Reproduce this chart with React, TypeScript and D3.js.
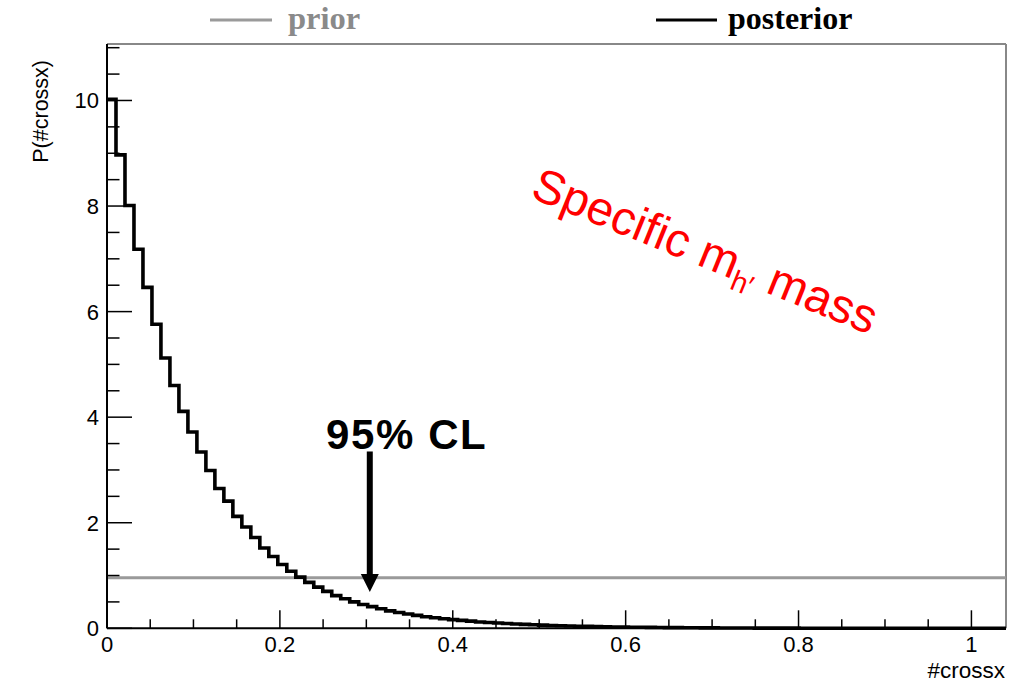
import React from "react";
import * as d3 from "d3";

// Histogram definition (100 bins over [0, 1.04])
const xMin = 0;
const xMax = 1.04;
const yMax = 11.07;

// posterior density per bin
const posterior = [
  10.02, 8.97, 8.01, 7.18, 6.46, 5.76, 5.12, 4.6, 4.11, 3.72,
  3.34, 2.99, 2.65, 2.41, 2.12, 1.92, 1.72, 1.52, 1.36, 1.21,
  1.08, 0.97, 0.87, 0.78, 0.7, 0.62, 0.56, 0.5, 0.45, 0.41,
  0.37, 0.33, 0.3, 0.27, 0.245, 0.22, 0.2, 0.18, 0.165, 0.15,
  0.135, 0.12, 0.11, 0.1, 0.09, 0.082, 0.074, 0.067, 0.06, 0.054,
  0.049, 0.044, 0.04, 0.036, 0.032, 0.029, 0.026, 0.023, 0.021, 0.019,
  0.017, 0.015, 0.013, 0.012, 0.011, 0.01, 0.009, 0.008, 0.007, 0.006,
  0.005, 0.005, 0.004, 0.004, 0.003, 0.003, 0.003, 0.002, 0.002, 0.002,
  0.002, 0.001, 0.001, 0.001, 0.001, 0.001, 0.001, 0.001, 0.001, 0.001,
  0.001, 0, 0, 0, 0, 0, 0, 0, 0, 0,
];

// flat prior level
const priorLevel = 0.96;

// ticks
const xMajorTicks = [0, 0.2, 0.4, 0.6, 0.8, 1];
const xTickLabels = ["0", "0.2", "0.4", "0.6", "0.8", "1"];
const xMinorTicks = [0.05, 0.1, 0.15, 0.25, 0.3, 0.35, 0.45, 0.5, 0.55, 0.65, 0.7, 0.75, 0.85, 0.9, 0.95];
const yMajorTicks = [0, 2, 4, 6, 8, 10];
const yTickLabels = ["0", "2", "4", "6", "8", "10"];
const yMinorTicks = [0.5, 1, 1.5, 2.5, 3, 3.5, 4.5, 5, 5.5, 6.5, 7, 7.5, 8.5, 9, 9.5, 10.5, 11];

// annotation: 95% CL arrow
const clX = 0.304;
const clYFrom = 3.35;
const clYTo = 0.69;

const W = 1014;
const H = 684;
const plotLeft = 107;
const plotRight = 1006;
const plotTop = 44;
const plotBottom = 628.3;

const SANS = "'Liberation Sans', Arial, Helvetica, sans-serif";
const SERIF = "'Liberation Serif', 'Times New Roman', serif";

export default function App() {
  const x = d3.scaleLinear().domain([xMin, xMax]).range([plotLeft, plotRight]);
  const y = d3.scaleLinear().domain([0, yMax]).range([plotBottom, plotTop]);
  const n = posterior.length;
  const binW = (xMax - xMin) / n;
  const pts: [number, number][] = posterior.map((v, i) => [xMin + i * binW, v]);
  pts.push([xMax, posterior[n - 1]]);
  const step = d3
    .line<[number, number]>()
    .x((d) => x(d[0]))
    .y((d) => y(d[1]))
    .curve(d3.curveStepAfter);

  const arrowTipY = y(clYTo);
  const arrowBaseY = arrowTipY - 18;

  return (
    <svg
      width={W}
      height={H}
      style={{ position: "absolute", left: 0, top: 0, background: "#fff" }}
    >
      <rect x={0} y={0} width={W} height={H} fill="#fff" />
      {/* legend */}
      <line x1={210} x2={272} y1={20} y2={20} stroke="#9a9a9a" strokeWidth={3} />
      <text x={288} y={29} fontFamily={SERIF} fontWeight="bold" fontSize={32.5} fill="#8a8a8a">
        prior
      </text>
      <line x1={656} x2={717} y1={20} y2={20} stroke="#000" strokeWidth={3} />
      <text x={728} y={29} fontFamily={SERIF} fontWeight="bold" fontSize={32} fill="#000">
        posterior
      </text>

      {/* frame */}
      <line x1={plotLeft} x2={plotRight} y1={plotTop} y2={plotTop} stroke="#888" strokeWidth={2} />
      <line x1={plotRight} x2={plotRight} y1={plotTop} y2={plotBottom} stroke="#888" strokeWidth={2} />

      {/* prior */}
      <line
        x1={x(xMin)}
        x2={x(xMax)}
        y1={y(priorLevel)}
        y2={y(priorLevel)}
        stroke="#9a9a9a"
        strokeWidth={3}
      />
      {/* posterior */}
      <path d={step(pts) || ""} fill="none" stroke="#000" strokeWidth={3.6} />

      {/* arrow */}
      <line
        x1={x(clX)}
        x2={x(clX)}
        y1={y(clYFrom)}
        y2={arrowBaseY + 1}
        stroke="#000"
        strokeWidth={6}
      />
      <path
        d={`M${x(clX) - 9},${arrowBaseY} L${x(clX) + 9},${arrowBaseY} L${x(clX)},${arrowTipY} Z`}
        fill="#000"
      />
      <text x={326} y={449} fontFamily={SANS} fontWeight="bold" fontSize={42} letterSpacing={1.6} fill="#000">
        95% CL
      </text>

      {/* red annotation */}
      <text
        transform={`translate(529,197) rotate(22)`}
        fontFamily={SANS}
        fontSize={47.5}
        fill="#ff0000"
      >
        Specific m
        <tspan fontSize={29} dy={10}>
          h′
        </tspan>
        <tspan dy={-10}> mass</tspan>
      </text>

      {/* axes */}
      <line x1={plotLeft} x2={plotLeft} y1={plotTop} y2={plotBottom} stroke="#000" strokeWidth={2} />
      <line x1={plotLeft} x2={plotRight} y1={plotBottom} y2={plotBottom} stroke="#000" strokeWidth={2} />
      {yMajorTicks.map((t, i) => (
        <g key={"ym" + t}>
          <line x1={plotLeft} x2={plotLeft + 25} y1={y(t)} y2={y(t)} stroke="#000" strokeWidth={1.5} />
          <text
            x={plotLeft - 8}
            y={y(t)}
            dy="0.36em"
            textAnchor="end"
            fontFamily={SANS}
            fontSize={22}
            fill="#000"
          >
            {yTickLabels[i]}
          </text>
        </g>
      ))}
      {yMinorTicks.map((t) => (
        <line key={"yn" + t} x1={plotLeft} x2={plotLeft + 12.5} y1={y(t)} y2={y(t)} stroke="#000" strokeWidth={1.5} />
      ))}
      {xMajorTicks.map((t, i) => (
        <g key={"xm" + t}>
          <line x1={x(t)} x2={x(t)} y1={plotBottom} y2={plotBottom - 18} stroke="#000" strokeWidth={1.5} />
          <text
            x={x(t)}
            y={652}
            textAnchor="middle"
            fontFamily={SANS}
            fontSize={22}
            fill="#000"
          >
            {xTickLabels[i]}
          </text>
        </g>
      ))}
      {xMinorTicks.map((t) => (
        <line key={"xn" + t} x1={x(t)} x2={x(t)} y1={plotBottom} y2={plotBottom - 9} stroke="#000" strokeWidth={1.5} />
      ))}
      <text x={1005} y={678} textAnchor="end" fontFamily={SANS} fontSize={22.5} fill="#000">
        #crossx
      </text>
      <text
        transform={`translate(48,60) rotate(-90)`}
        textAnchor="end"
        fontFamily={SANS}
        fontSize={21.5}
        fill="#000"
      >
        P(#crossx)
      </text>
    </svg>
  );
}
